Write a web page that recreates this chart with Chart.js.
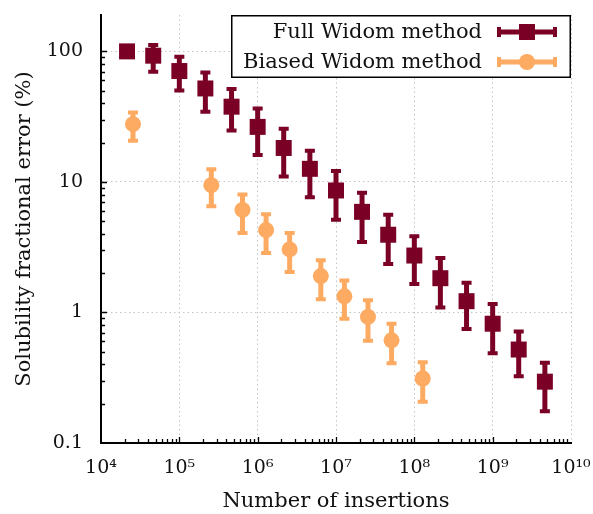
<!DOCTYPE html>
<html>
<head>
<meta charset="utf-8">
<script src="https://cdn.jsdelivr.net/npm/chart.js@4/dist/chart.umd.min.js"></script>
<style>
html,body{margin:0;padding:0;background:#fff;}
#wrap{width:593px;height:514px;position:relative;}
</style>
</head>
<body>
<div id="wrap"><canvas id="c"></canvas></div>
<script>
// ---- data ----
const seriesNames = ['Full Widom method', 'Biased Widom method'];

const insertionsFull = [2.15e4, 4.64e4, 1e5, 2.15e5, 4.64e5, 1e6, 2.15e6, 4.64e6, 1e7, 2.15e7, 4.64e7, 1e8, 2.15e8, 4.64e8, 1e9, 2.15e9, 4.64e9];
const errorFull      = [100, 92.7, 70.7, 52, 37.7, 26.4, 18.2, 12.6, 8.6, 5.9, 3.94, 2.73, 1.83, 1.22, 0.82, 0.52, 0.295];
const errorFullHigh  = [103, 112, 91, 69, 51.5, 36.5, 25.6, 17.3, 12.1, 8.27, 5.61, 3.83, 2.61, 1.69, 1.16, 0.715, 0.411];
const errorFullLow   = [97, 69.9, 50.1, 34.5, 24.8, 16.1, 11.0, 7.64, 5.14, 3.46, 2.35, 1.65, 1.09, 0.746, 0.487, 0.324, 0.175];

const insertionsBiased = [2.56e4, 2.56e5, 6.4e5, 1.28e6, 2.56e6, 6.4e6, 1.28e7, 2.56e7, 5.12e7, 1.28e8];
const errorBiased      = [27.7, 9.44, 6.10, 4.28, 3.04, 1.90, 1.33, 0.925, 0.612, 0.312];
const errorBiasedHigh  = [34.1, 12.5, 8.0, 5.65, 4.06, 2.51, 1.76, 1.24, 0.818, 0.416];
const errorBiasedLow   = [20.7, 6.5, 4.06, 2.85, 2.04, 1.26, 0.894, 0.606, 0.408, 0.207];

const xTickLabels = {4:'10⁴',5:'10⁵',6:'10⁶',7:'10⁷',8:'10⁸',9:'10⁹',10:'10¹⁰'};
const yTickLabels = {'-1':'0.1','0':'1','1':'10','2':'100'};

// ---- styling ----
const RED = '#7a0026';
const ORANGE = '#fdaa62';
const FONT = "'DejaVu Serif', serif";
const TXT = '#111';

function isPow10(v){ const l = Math.log10(v); return Math.abs(l - Math.round(l)) < 1e-9; }

const errorBars = {
  id: 'errorBars',
  beforeDatasetsDraw(chart){
    const ctx = chart.ctx, xs = chart.scales.x, ys = chart.scales.y;
    ctx.save();
    ctx.setLineDash([]);
    chart.data.datasets.forEach(ds => {
      ctx.strokeStyle = ds.backgroundColor;
      ds.xs.forEach((xv, j) => {
        const x = xs.getPixelForValue(xv);
        const yh = ys.getPixelForValue(ds.hi[j]);
        const yl = ys.getPixelForValue(ds.lo[j]);
        ctx.lineCap = 'butt';
        ctx.lineWidth = 5;
        ctx.beginPath(); ctx.moveTo(x, yh); ctx.lineTo(x, yl); ctx.stroke();
        ctx.lineWidth = 4;
        ctx.beginPath();
        ctx.moveTo(x - 5, yh); ctx.lineTo(x + 5, yh);
        ctx.moveTo(x - 5, yl); ctx.lineTo(x + 5, yl);
        ctx.stroke();
      });
    });
    ctx.restore();
  }
};

const innerTicks = {
  id: 'innerTicks',
  afterDraw(chart){
    const ctx = chart.ctx, xs = chart.scales.x, ys = chart.scales.y, a = chart.chartArea;
    ctx.save();
    ctx.setLineDash([]);
    ctx.strokeStyle = '#000';
    ctx.lineWidth = 1.3;
    ctx.beginPath();
    for (let e = 4; e < 10; e++) {
      for (let m = 1; m <= 9; m++) {
        const x = Math.round(xs.getPixelForValue(m * Math.pow(10, e))) + 0.5;
        const len = m === 1 ? 6 : 4;
        if (m === 1 && e === 4) continue;
        ctx.moveTo(x, a.bottom); ctx.lineTo(x, a.bottom - len);
      }
    }
    for (let e = -1; e <= 2; e++) {
      for (let m = 1; m <= 9; m++) {
        const v = m * Math.pow(10, e);
        if (v > ys.max) break;
        const y = Math.round(ys.getPixelForValue(v)) + 0.5;
        const len = m === 1 ? 6 : 4;
        if (m === 1 && e === -1) continue;
        ctx.moveTo(a.left, y); ctx.lineTo(a.left + len, y);
      }
    }
    ctx.stroke();

    // legend
    const right = a.right, top = a.top;
    const bx = right - 340, bw = 340, bh = 63;
    ctx.fillStyle = '#fff';
    ctx.fillRect(bx, top, bw, bh);
    ctx.lineWidth = 1.5;
    ctx.strokeStyle = '#000';
    ctx.strokeRect(bx + 0.75, top + 0.75, bw - 1.5, bh - 1.5);
    ctx.font = "21px " + FONT;
    ctx.textAlign = 'right';
    ctx.textBaseline = 'middle';
    chart.data.datasets.forEach((ds, i) => {
      const cy = top + 17 + i * 30;
      ctx.fillStyle = TXT;
      ctx.fillText(ds.label, right - 89, cy + 1);
      const x0 = right - 74, x1 = right - 14, xm = right - 44;
      ctx.strokeStyle = ds.backgroundColor;
      ctx.lineWidth = 5;
      ctx.beginPath(); ctx.moveTo(x0, cy); ctx.lineTo(x1, cy); ctx.stroke();
      ctx.lineWidth = 4;
      ctx.beginPath();
      ctx.moveTo(x0 + 2, cy - 5); ctx.lineTo(x0 + 2, cy + 5);
      ctx.moveTo(x1 - 2, cy - 5); ctx.lineTo(x1 - 2, cy + 5);
      ctx.stroke();
      ctx.fillStyle = ds.backgroundColor;
      if (ds.pointStyle === 'rect') ctx.fillRect(xm - 8, cy - 8, 16, 16);
      else { ctx.beginPath(); ctx.arc(xm, cy, 8, 0, Math.PI * 2); ctx.fill(); }
    });
    ctx.restore();
  }
};

const gridColor = c => (c.tick && isPow10(c.tick.value)) ? '#c4c4c4' : 'rgba(0,0,0,0)';

const chart = new Chart(document.getElementById('c'), {
  type: 'scatter',
  data: {
    datasets: [
      {
        label: seriesNames[0],
        data: insertionsFull.map((x, i) => ({x, y: errorFull[i]})),
        xs: insertionsFull, hi: errorFullHigh, lo: errorFullLow,
        backgroundColor: RED, borderColor: RED, borderWidth: 0,
        pointStyle: 'rect', pointRadius: 11.3, pointHoverRadius: 11.3
      },
      {
        label: seriesNames[1],
        data: insertionsBiased.map((x, i) => ({x, y: errorBiased[i]})),
        xs: insertionsBiased, hi: errorBiasedHigh, lo: errorBiasedLow,
        backgroundColor: ORANGE, borderColor: ORANGE, borderWidth: 0,
        pointStyle: 'circle', pointRadius: 8, pointHoverRadius: 8
      }
    ]
  },
  options: {
    responsive: true,
    maintainAspectRatio: false,
    animation: false,
    events: [],
    layout: { padding: { top: 15, right: 22, left: 0, bottom: 0 } },
    plugins: { legend: { display: false }, tooltip: { enabled: false } },
    scales: {
      x: {
        type: 'logarithmic', min: 1e4, max: 1e10,
        afterFit(s){ s.height = 71; s.paddingLeft = 0; s.paddingRight = 0; },
        border: { display: true, color: '#000', width: 2, dash: [1.5, 3] },
        grid: { drawTicks: false, color: gridColor, lineWidth: 1 },
        ticks: {
          autoSkip: false, maxRotation: 0, minRotation: 0, padding: 14,
          color: TXT, font: { family: FONT, size: 19 },
          callback: v => isPow10(v) ? (xTickLabels[Math.round(Math.log10(v))] || '') : ''
        },
        title: { display: true, text: 'Number of insertions', color: TXT,
                 font: { family: FONT, size: 21 }, padding: { top: 0, bottom: 0 } }
      },
      y: {
        type: 'logarithmic', min: 0.1, max: 190,
        afterFit(s){ s.width = 101; s.paddingTop = 0; s.paddingBottom = 0; },
        border: { display: true, color: '#000', width: 2, dash: [1.5, 3] },
        grid: { drawTicks: false, color: gridColor, lineWidth: 1 },
        ticks: {
          autoSkip: false, padding: 18,
          color: TXT, font: { family: FONT, size: 19 },
          callback: v => isPow10(v) ? (yTickLabels[String(Math.round(Math.log10(v)))] || '') : ''
        },
        title: { display: true, text: 'Solubility fractional error (%)', color: TXT,
                 font: { family: FONT, size: 21 }, padding: { top: 12, bottom: 0 } }
      }
    }
  },
  plugins: [errorBars, innerTicks]
});
</script>
</body>
</html>
